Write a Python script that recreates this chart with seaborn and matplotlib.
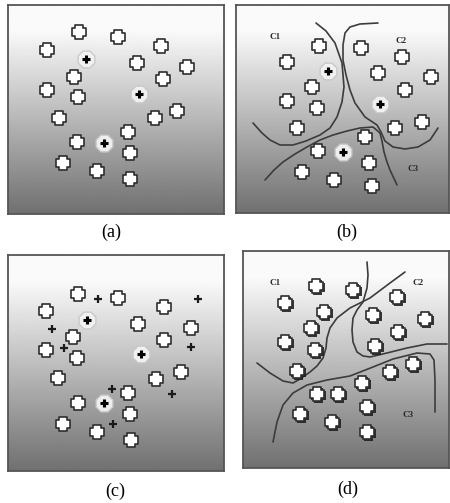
import numpy as np
import pandas as pd
import matplotlib
matplotlib.use("Agg")
import matplotlib.pyplot as plt
import matplotlib.patheffects as pe
from matplotlib.path import Path
import seaborn as sns

sns.set_theme(style="white")
plt.rcParams["font.family"] = ["Liberation Serif", "DejaVu Serif"]

W, H = 450, 503

# ---- panel (a): initial data points and three seed centroids ----
a_x = [79, 118, 47, 161, 137, 187, 74, 163, 47, 78, 59, 155, 177, 128, 77, 130, 63, 97, 130]
a_y = [32, 37, 50, 46, 63, 67, 77, 79, 90, 97, 118, 118, 111, 132, 142, 153, 163, 171, 179]
a_cx = [86, 139, 104]
a_cy = [59, 94, 143]

# ---- panel (b): assignment to clusters C1..C3 ----
b_x = [319, 361, 287, 402, 378, 431, 312, 405, 287, 317, 297, 395, 422, 365, 318, 369, 302, 334, 372]
b_y = [46, 48, 62, 57, 73, 77, 87, 90, 101, 108, 128, 128, 122, 137, 151, 163, 172, 180, 186]
b_cx = [328, 380, 343]
b_cy = [71, 104, 152]
b_line1_x = [316, 326, 335, 342, 344, 342, 337, 330, 320, 306, 293, 280, 270, 262, 253]
b_line1_y = [23, 31, 43, 63, 87, 102, 117, 128, 135, 141, 145, 145, 140, 133, 123]
b_line2_x = [378, 360, 350, 345, 343, 343, 346, 350, 355, 365, 377, 381, 385, 393, 405, 418, 430, 438]
b_line2_y = [23, 24, 27, 33, 45, 60, 75, 90, 103, 117, 125, 132, 141, 147, 149, 147, 140, 128]
b_line3_x = [265, 274, 283, 295, 307, 320, 333, 347, 360, 373, 380, 382, 384, 387, 390, 397]
b_line3_y = [180, 170, 162, 154, 147, 140, 135, 131, 128, 127, 133, 141, 152, 162, 170, 185]
b_lab = ["C1", "C2", "C3"]
b_lab_x = [275, 401, 413]
b_lab_y = [37, 41, 169]

# ---- panel (c): updated centroid candidates ----
c_x = [78, 118, 46, 164, 138, 191, 73, 164, 46, 77, 58, 156, 181, 128, 78, 130, 63, 97, 131]
c_y = [294, 298, 311, 307, 324, 328, 337, 340, 350, 358, 378, 379, 372, 393, 403, 414, 424, 432, 440]
c_cx = [87, 141, 104]
c_cy = [320, 354, 403]
c_px = [98, 198, 52, 64, 191, 112, 172, 113]
c_py = [299, 299, 329, 348, 347, 389, 394, 424]

# ---- panel (d): final clusters ----
d_x = [316, 353, 285, 397, 324, 373, 425, 311, 398, 285, 375, 315, 297, 390, 413, 362, 317, 338, 367, 300, 332, 367]
d_y = [286, 290, 303, 297, 312, 315, 319, 328, 332, 342, 346, 350, 371, 372, 364, 383, 394, 394, 407, 414, 422, 432]
d_line1_x = [367, 368, 367, 363, 357, 353, 352, 353, 357, 363, 370, 387, 407, 427, 447]
d_line1_y = [262, 275, 288, 302, 310, 318, 330, 342, 352, 356, 357, 353, 348, 344, 344]
d_line2_x = [405, 390, 370, 350, 337, 330, 327, 326, 323, 317, 310, 300, 293, 283, 270, 257]
d_line2_y = [272, 283, 298, 308, 318, 328, 338, 348, 358, 366, 372, 379, 383, 381, 373, 363]
d_line3_x = [273, 275, 277, 283, 293, 307, 327, 350, 373, 393, 417, 430, 434, 435, 435]
d_line3_y = [442, 432, 422, 405, 393, 385, 380, 376, 367, 359, 353, 354, 360, 380, 412]
d_lab = ["C1", "C2", "C3"]
d_lab_x = [275, 418, 408]
d_lab_y = [283, 283, 415]

captions = ["(a)", "(b)", "(c)", "(d)"]
caption_x = [111, 347, 115, 348]
caption_y = [232, 232, 491, 489]

# panel frames: x0, x1, y0, y1 in page pixels
boxes = [(8, 224, 5, 214), (236, 449, 5, 213), (8, 224, 255, 471), (243, 449, 251, 468)]

# chunky plus marker for the data points
_a = 0.3
plus_path = Path([(-_a, 0.5), (_a, 0.5), (_a, _a), (0.5, _a), (0.5, -_a), (_a, -_a),
                  (_a, -0.5), (-_a, -0.5), (-_a, -_a), (-0.5, -_a), (-0.5, _a), (-_a, _a),
                  (-_a, 0.5)], closed=True)

fig = plt.figure(figsize=(W / 100, H / 100), dpi=100)
fig.patch.set_facecolor("white")

# vertical white-to-grey shading of each panel
t = np.linspace(0, 1, 256)
shade = np.where(t < 0.12, 0.98, 0.98 - 0.54 * (t - 0.12) / 0.88)[:, None]


def make_panel(box):
    x0, x1, y0, y1 = box
    ax = fig.add_axes([x0 / W, 1 - y1 / H, (x1 - x0) / W, (y1 - y0) / H])
    ax.imshow(shade, cmap="gray", vmin=0, vmax=1, aspect="auto",
              extent=(x0, x1, y1, y0), zorder=0, interpolation="bilinear")
    ax.set_xlim(x0, x1)
    ax.set_ylim(y1, y0)
    ax.set_xticks([])
    ax.set_yticks([])
    for s in ax.spines.values():
        s.set_color("#555555")
        s.set_linewidth(1.3)
    return ax


def points(ax, xs, ys, shadow=False):
    kw = {}
    if shadow:
        kw["path_effects"] = [pe.SimplePatchShadow(offset=(1.3, -1.3), shadow_rgbFace="#1a1a1a", alpha=0.85),
                              pe.Normal()]
    sns.scatterplot(x=xs, y=ys, ax=ax, marker=plus_path, s=115, color="white",
                    edgecolor="#2e2e2e", linewidth=1.2, zorder=4, legend=False, **kw)


def centroids(ax, xs, ys):
    sns.scatterplot(x=xs, y=ys, ax=ax, marker="8", s=170, color="#f3f3f3",
                    edgecolor="#c8c8c8", linewidth=1.0, alpha=0.95, zorder=4, legend=False)
    sns.scatterplot(x=xs, y=ys, ax=ax, marker="+", s=32, color="black",
                    linewidth=2.2, zorder=5, legend=False)


def boundary(ax, xs, ys):
    sns.lineplot(x=xs, y=ys, ax=ax, sort=False, estimator=None, color="#3c3c3c",
                 linewidth=1.2, zorder=3)


def labels(ax, names, xs, ys):
    for n, x, y in zip(names, xs, ys):
        ax.text(x, y, n, fontsize=6.5, fontweight="bold", color="#2a2a2a",
                ha="center", va="center", zorder=6)


ax_a, ax_b, ax_c, ax_d = [make_panel(b) for b in boxes]

points(ax_a, a_x, a_y)
centroids(ax_a, a_cx, a_cy)

boundary(ax_b, b_line1_x, b_line1_y)
boundary(ax_b, b_line2_x, b_line2_y)
boundary(ax_b, b_line3_x, b_line3_y)
points(ax_b, b_x, b_y)
centroids(ax_b, b_cx, b_cy)
labels(ax_b, b_lab, b_lab_x, b_lab_y)

points(ax_c, c_x, c_y)
centroids(ax_c, c_cx, c_cy)
sns.scatterplot(x=c_px, y=c_py, ax=ax_c, marker="+", s=40, color="#1a1a1a",
                linewidth=1.6, zorder=5, legend=False)

boundary(ax_d, d_line1_x, d_line1_y)
boundary(ax_d, d_line2_x, d_line2_y)
boundary(ax_d, d_line3_x, d_line3_y)
points(ax_d, d_x, d_y, shadow=True)
labels(ax_d, d_lab, d_lab_x, d_lab_y)

for cap, x, y in zip(captions, caption_x, caption_y):
    fig.text(x / W, 1 - y / H, cap, fontsize=13, ha="center", va="center", color="black")

fig.savefig("out.png", dpi=100)
